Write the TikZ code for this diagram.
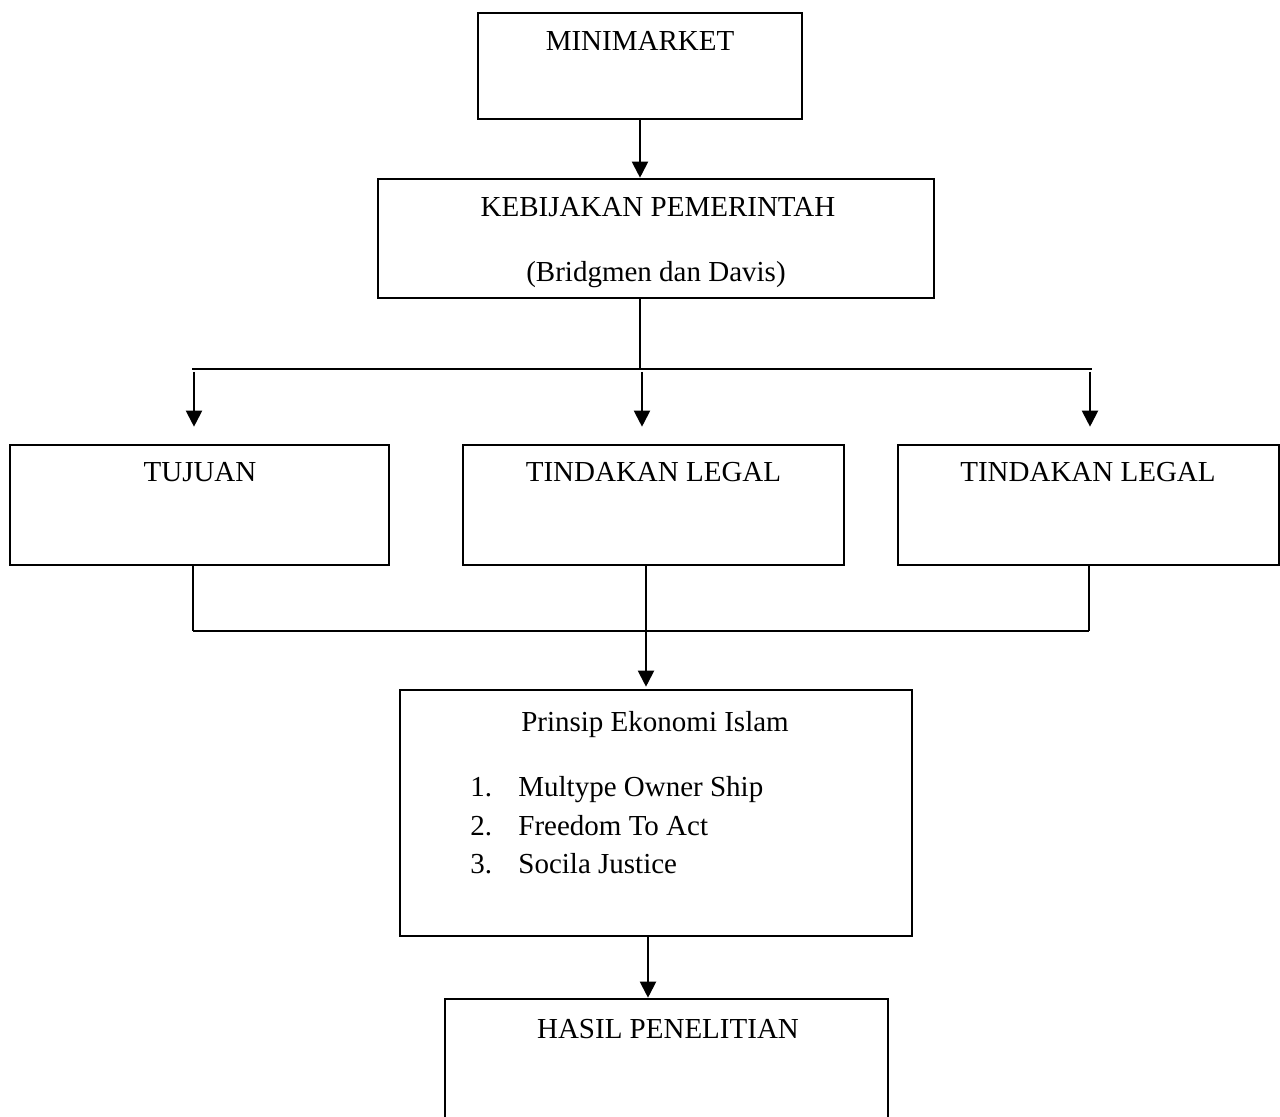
\documentclass[tikz,border=0pt]{standalone}
\usepackage{fontspec}
\setmainfont{Liberation Serif}
\usetikzlibrary{arrows.meta}
\begin{document}
\begin{tikzpicture}[x=0.5pt,y=-0.5pt,
  box/.style={draw=black,line width=1.3pt,rectangle,inner sep=0pt,fill=none},
  txt/.style={inner sep=0pt,anchor=base,font=\fontsize{14.5}{17}\selectfont},
  ltxt/.style={inner sep=0pt,anchor=base west,font=\fontsize{14.5}{17}\selectfont},
  ln/.style={draw=black,line width=1pt},
  bar/.style={draw=black,line width=1.2pt},
  arr/.style={draw=black,line width=1pt,-{Triangle[length=8pt,width=8pt]}}]
\clip (0,0) rectangle (1280,1117);
\fill[white] (0,0) rectangle (1280,1117);
% boxes
\node[box,minimum width=162pt,minimum height=53pt] (mm) at (640,66) {};
\node[box,minimum width=278pt,minimum height=59.5pt] (kb) at (656,238.5) {};
\node[box,minimum width=189.5pt,minimum height=60pt] (tj) at (199.5,505) {};
\node[box,minimum width=190.5pt,minimum height=60pt] (tl1) at (653.5,505) {};
\node[box,minimum width=190.5pt,minimum height=60pt] (tl2) at (1088.5,505) {};
\node[box,minimum width=256pt,minimum height=123pt] (pr) at (656,813) {};
\node[box,minimum width=221.5pt,minimum height=70.5pt] (hs) at (666.5,1069.5) {};
% texts
\node[txt] (tmm) at (640,51) {MINIMARKET};
\node[txt] (tkb1) at (658,217) {KEBIJAKAN PEMERINTAH};
\node[txt] (tkb2) at (656,282) {(Bridgmen dan Davis)};
\node[txt] (ttj) at (200,482) {TUJUAN};
\node[txt] (ttl1) at (653.5,482) {TINDAKAN LEGAL};
\node[txt] (ttl2) at (1088,482) {TINDAKAN LEGAL};
\node[txt] (tpr) at (655,731) {Prinsip Ekonomi Islam};
\node[ltxt] (n1) at (470,796) {1.};
\node[ltxt] (i1) at (518,796) {Multype Owner Ship};
\node[ltxt] (n2) at (470,835) {2.};
\node[ltxt] (i2) at (518,835) {Freedom To Act};
\node[ltxt] (n3) at (470,873) {3.};
\node[ltxt] (i3) at (518,873) {Socila Justice};
\node[txt] (ths) at (668,1038) {HASIL PENELITIAN};
% junction coordinates
\coordinate (j1) at (640,369);
\coordinate (bl) at (192,369);
\coordinate (br) at (1092,369);
\coordinate (a1) at (194,372);
\coordinate (a2) at (642,372);
\coordinate (a3) at (1090,372);
\coordinate (c1) at (193,631);
\coordinate (c2) at (646,631);
\coordinate (c3) at (1089,631);
\coordinate (d2) at (648,0);
% connectors
\draw[arr] (mm.south) -- (kb.north -| mm.south);
\draw[ln] (j1 |- kb.south) -- (j1);
\draw[bar] (bl) -- (br);
\draw[arr,shorten >=8.5pt] (a1) -- (a1 |- tj.north);
\draw[arr,shorten >=8.5pt] (a2) -- (a2 |- tl1.north);
\draw[arr,shorten >=8.5pt] (a3) -- (a3 |- tl2.north);
\draw[ln] (c1 |- tj.south) -- (c1);
\draw[ln] (c3 |- tl2.south) -- (c3);
\draw[bar] (c1) -- (c3);
\draw[arr,shorten >=1pt] (c2 |- tl1.south) -- (c2 |- pr.north);
\draw[arr] (d2 |- pr.south) -- (d2 |- hs.north);
\end{tikzpicture}
\end{document}
